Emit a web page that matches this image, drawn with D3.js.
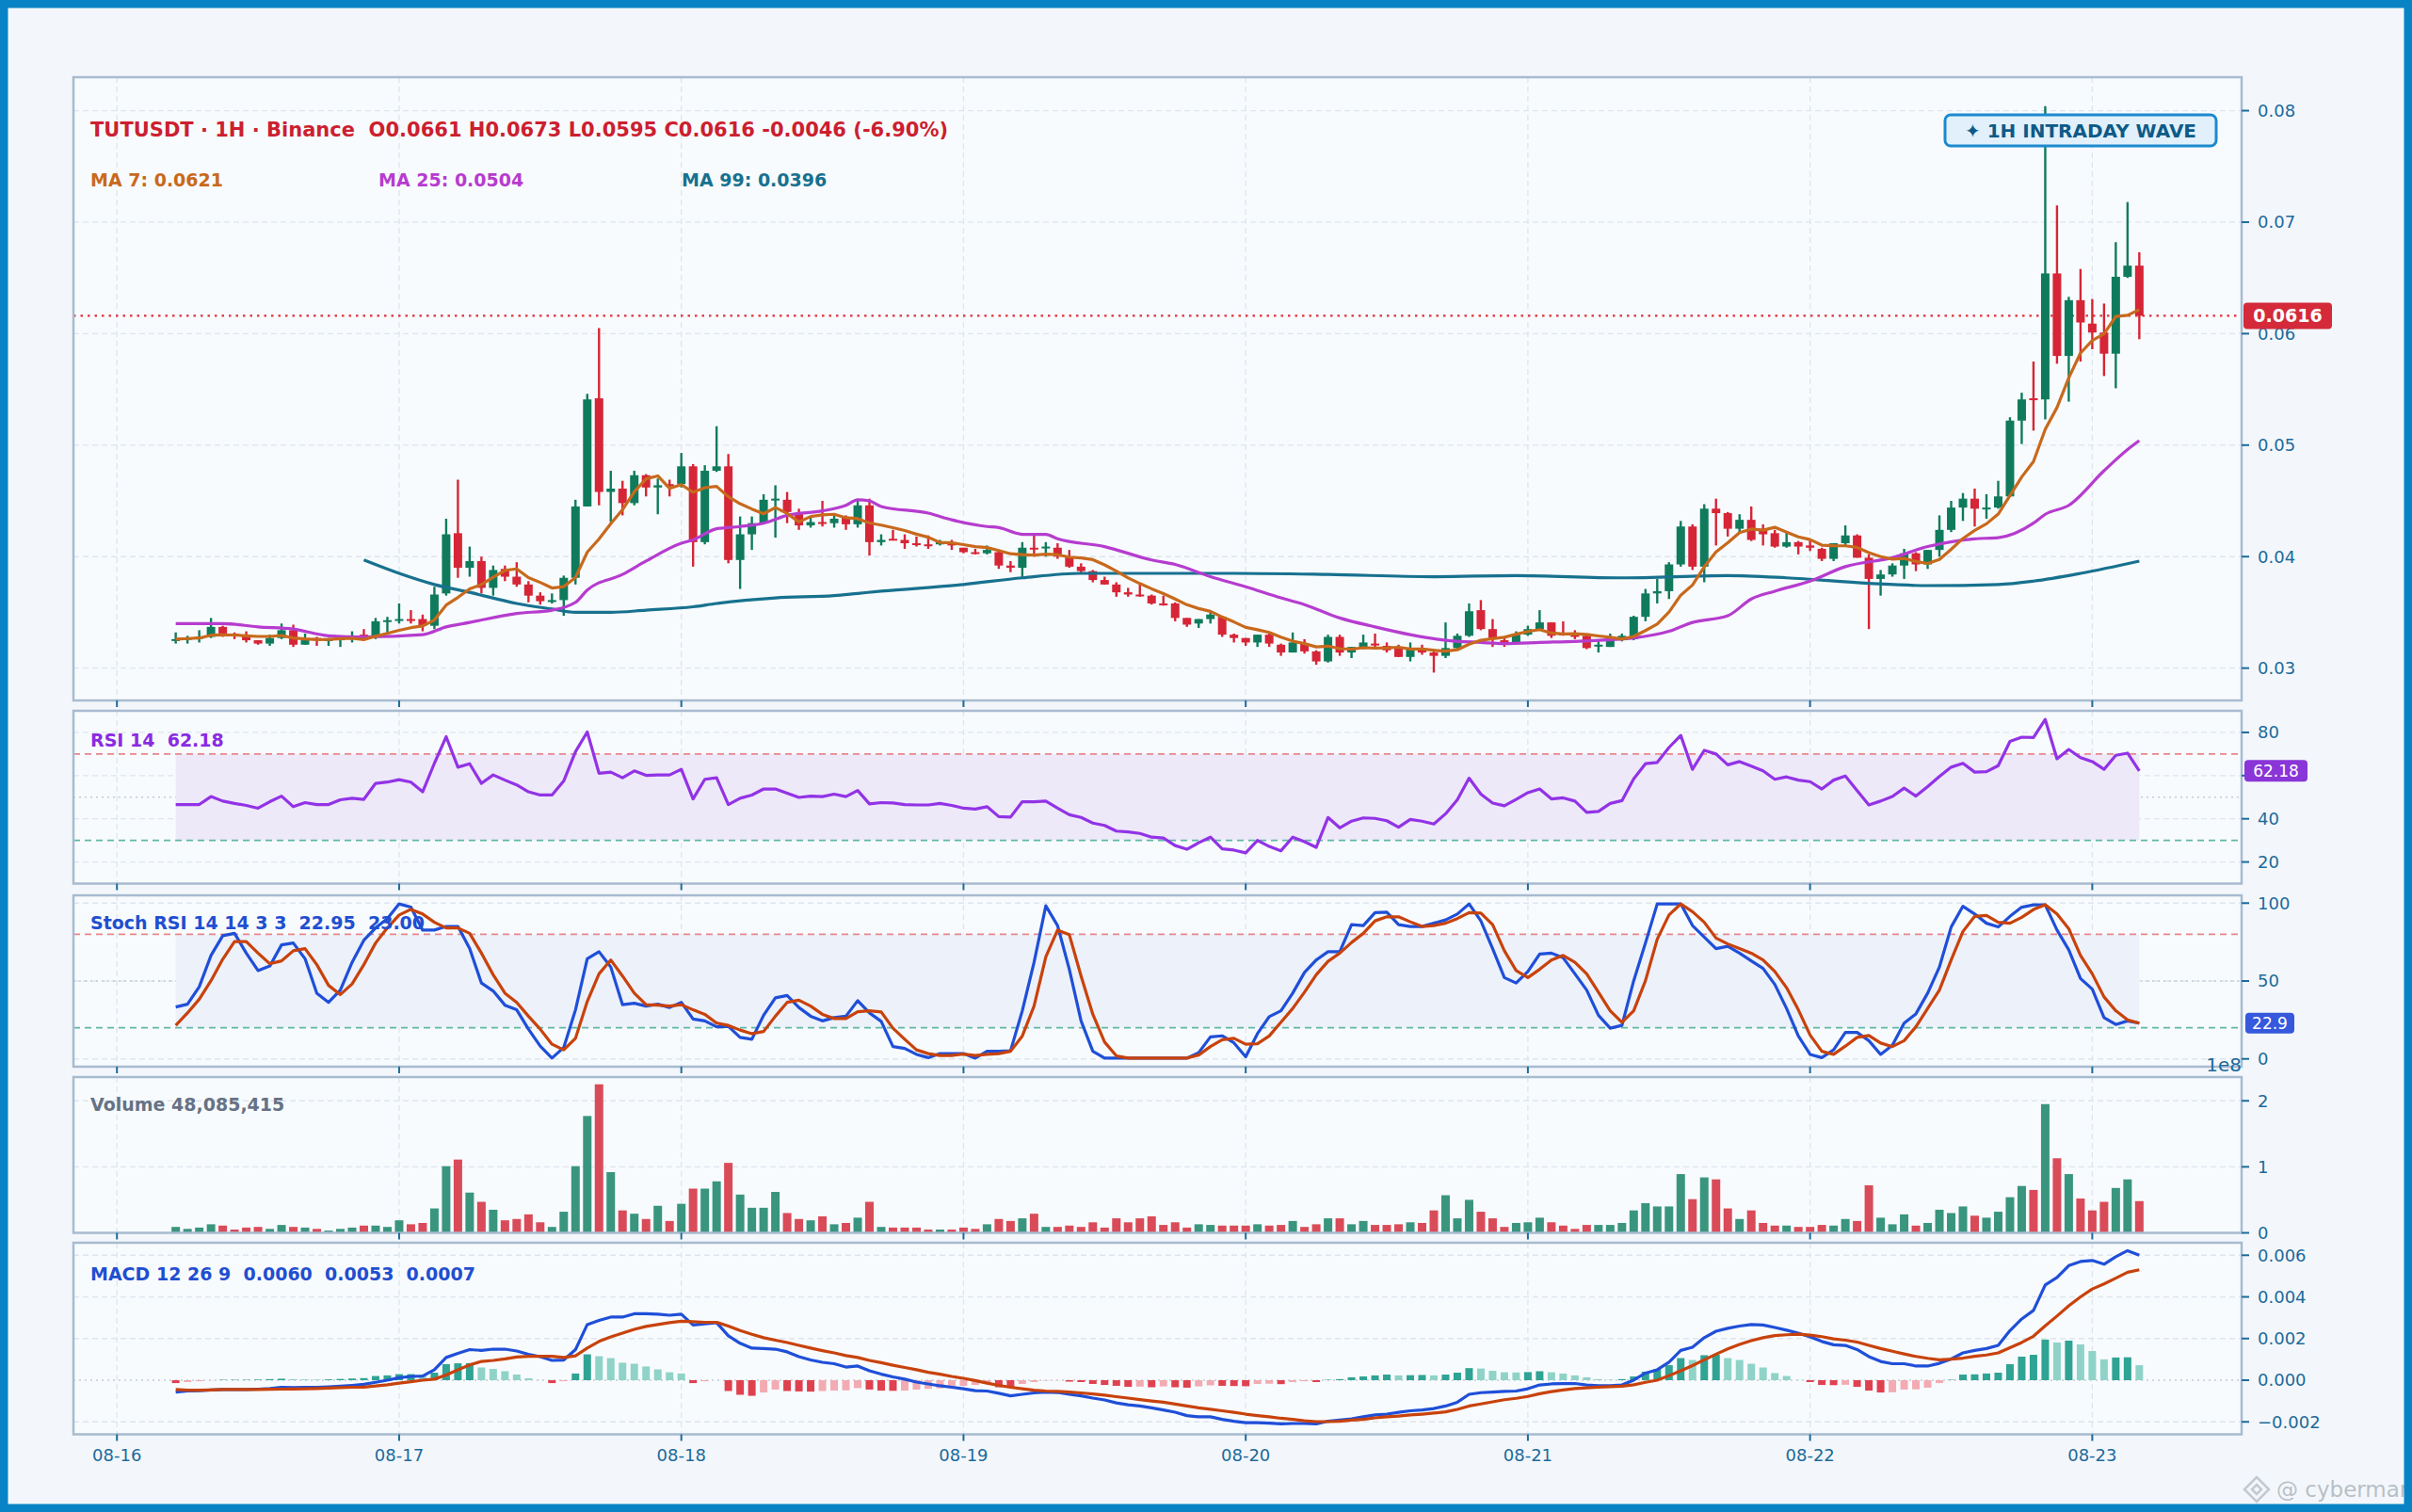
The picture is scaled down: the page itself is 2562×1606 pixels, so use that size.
<!DOCTYPE html>
<html lang="en">
<head>
<meta charset="utf-8">
<title>TUTUSDT 1H - Binance</title>
<script src="https://cdnjs.cloudflare.com/ajax/libs/d3/7.8.5/d3.min.js"></script>
<style>
  body { margin: 0; background: #f3f7fb; }
  svg { display: block; }
  text { font-family: "DejaVu Sans", sans-serif; }
</style>
</head>
<body>
<svg id="chart" width="2562" height="1606"></svg>
<script>
// ---- candles, 1h, first = 08-16 05:00, last = 08-23 04:00 ----
const opens = [
 .0325,.0326,.0327,.0328,.0337,.0331,.0329,.0325,.0322,.0327,.0334,.0321,
 .0327,.0325,.0325,.0327,.0330,.0329,.0342,.0343,.0344,.0344,.0338,.0367,
 .0421,.0390,.0396,.0372,.0389,.0382,.0375,.0365,.0360,.0361,.0381,.0445,
 .0542,.0458,.0461,.0448,.0473,.0462,.0465,.0465,.0481,.0413,.0477,.0481,
 .0397,.0420,.0430,.0451,.0451,.0439,.0428,.0431,.0430,.0435,.0429,.0446,
 .0413,.0416,.0415,.0412,.0411,.0411,.0413,.0408,.0404,.0403,.0404,.0392,
 .0390,.0408,.0408,.0408,.0400,.0391,.0387,.0379,.0375,.0368,.0366,.0365,
 .0358,.0358,.0345,.0340,.0344,.0346,.0330,.0327,.0323,.0330,.0321,.0314,
 .0322,.0315,.0306,.0328,.0314,.0319,.0322,.0320,.0319,.0310,.0317,.0314,
 .0311,.0318,.0329,.0352,.0335,.0325,.0323,.0330,.0335,.0341,.0331,.0331,
 .0329,.0320,.0319,.0328,.0326,.0346,.0367,.0369,.0393,.0427,.0391,.0443,
 .0439,.0425,.0433,.0425,.0421,.0409,.0413,.0410,.0407,.0398,.0412,.0419,
 .0399,.0380,.0384,.0392,.0403,.0393,.0406,.0424,.0444,.0452,.0443,.0444,
 .0454,.0522,.0542,.0541,.0654,.0580,.0630,.0609,.0601,.0582,.0651,.0661
];
const highs = [
 .0332,.0329,.0334,.0345,.0338,.0332,.0333,.0325,.0330,.0340,.0339,.0331,
 .0328,.0327,.0327,.0333,.0335,.0345,.0346,.0358,.0352,.0348,.0373,.0434,
 .0469,.0409,.0400,.0392,.0392,.0395,.0378,.0368,.0367,.0383,.0451,.0546,
 .0605,.0477,.0468,.0477,.0474,.0470,.0469,.0493,.0483,.0482,.0517,.0492,
 .0436,.0436,.0456,.0464,.0458,.0443,.0435,.0450,.0439,.0437,.0451,.0452,
 .0420,.0424,.0420,.0418,.0419,.0415,.0415,.0408,.0407,.0410,.0406,.0396,
 .0413,.0420,.0413,.0412,.0406,.0394,.0388,.0382,.0377,.0372,.0375,.0366,
 .0365,.0359,.0345,.0344,.0350,.0347,.0331,.0327,.0330,.0331,.0322,.0332,
 .0326,.0316,.0330,.0330,.0319,.0330,.0331,.0323,.0321,.0323,.0321,.0317,
 .0341,.0331,.0358,.0361,.0344,.0327,.0333,.0338,.0352,.0341,.0342,.0334,
 .0330,.0325,.0331,.0331,.0347,.0371,.0380,.0395,.0432,.0429,.0447,.0452,
 .0440,.0438,.0445,.0429,.0424,.0423,.0414,.0415,.0408,.0412,.0428,.0420,
 .0402,.0388,.0394,.0407,.0404,.0406,.0437,.0450,.0457,.0461,.0456,.0468,
 .0525,.0547,.0575,.0804,.0715,.0633,.0658,.0631,.0627,.0682,.0718,.0673
];
const lows = [
 .0322,.0322,.0323,.0327,.0328,.0326,.0323,.0321,.0320,.0326,.0319,.0321,
 .0320,.0320,.0319,.0323,.0325,.0326,.0330,.0340,.0340,.0333,.0335,.0365,
 .0381,.0382,.0367,.0365,.0378,.0373,.0359,.0357,.0358,.0347,.0375,.0445,
 .0446,.0431,.0437,.0446,.0454,.0438,.0454,.0462,.0391,.0411,.0476,.0394,
 .0371,.0406,.0429,.0417,.0430,.0424,.0426,.0427,.0426,.0424,.0426,.0401,
 .0410,.0415,.0407,.0409,.0407,.0410,.0406,.0403,.0402,.0402,.0389,.0386,
 .0381,.0400,.0400,.0398,.0390,.0385,.0377,.0375,.0364,.0364,.0364,.0357,
 .0356,.0342,.0337,.0336,.0340,.0328,.0323,.0320,.0319,.0319,.0311,.0314,
 .0313,.0303,.0305,.0311,.0309,.0317,.0319,.0314,.0310,.0306,.0312,.0296,
 .0309,.0316,.0328,.0334,.0319,.0319,.0323,.0329,.0334,.0327,.0329,.0326,
 .0317,.0314,.0319,.0324,.0325,.0342,.0358,.0362,.0391,.0388,.0377,.0410,
 .0418,.0422,.0414,.0410,.0408,.0408,.0402,.0405,.0396,.0396,.0410,.0399,
 .0335,.0365,.0382,.0380,.0387,.0389,.0400,.0422,.0432,.0427,.0434,.0443,
 .0454,.0501,.0513,.0523,.0573,.0539,.0575,.0586,.0562,.0551,.0650,.0595
];
const closes = [
 .0326,.0327,.0328,.0337,.0331,.0329,.0325,.0322,.0327,.0334,.0321,.0325,
 .0325,.0326,.0327,.0329,.0326,.0342,.0343,.0344,.0343,.0338,.0366,.0420,
 .0390,.0396,.0372,.0388,.0382,.0375,.0365,.0360,.0361,.0381,.0445,.0541,
 .0458,.0461,.0448,.0473,.0462,.0464,.0463,.0481,.0413,.0477,.0481,.0397,
 .0420,.0430,.0451,.0452,.0440,.0428,.0431,.0430,.0434,.0429,.0446,.0413,
 .0415,.0415,.0412,.0411,.0410,.0413,.0410,.0404,.0403,.0406,.0392,.0390,
 .0408,.0407,.0409,.0400,.0391,.0387,.0379,.0375,.0368,.0366,.0365,.0358,
 .0357,.0345,.0339,.0344,.0348,.0330,.0327,.0323,.0330,.0322,.0314,.0323,
 .0315,.0306,.0328,.0314,.0319,.0323,.0321,.0316,.0310,.0317,.0314,.0311,
 .0318,.0329,.0351,.0335,.0327,.0323,.0330,.0335,.0341,.0329,.0330,.0328,
 .0318,.0321,.0327,.0329,.0346,.0367,.0369,.0393,.0427,.0391,.0443,.0439,
 .0425,.0433,.0415,.0420,.0409,.0413,.0409,.0408,.0398,.0412,.0419,.0399,
 .0380,.0384,.0392,.0403,.0393,.0406,.0424,.0444,.0452,.0443,.0444,.0454,
 .0522,.0541,.0541,.0654,.0580,.0630,.0610,.0601,.0582,.0651,.0661,.0616
];
// volume, millions
const volumes = [
 9,6,8,13,11,5,8,9,6,12,9,8,6,3.5,6,8,11,11,9,19,13,15,37,101,111,61,47,35,19,21,28,16,9,32,101,177,225,92,34,29,21,41,18,44,67,67,78,106,58,38,38,62,30,21,19,25,
 13,15,23,47,9,8,8,8,5,5,5,8,6,13,21,18,22,29,9,9,11,9,16,8,22,16,22,25,12,16,8,13,12,11,11,11,13,11,12,18,9,13,22,22,13,18,12,12,13,16,15,34,57,22,50,32,
 22,9,15,16,23,16,11,6,12,12,12,15,34,45,40,40,89,51,84,81,37,21,34,15,11,11,9,9,12,11,21,18,72,23,13,28,11,15,35,30,40,26,23,32,54,71,65,195,113,89,52,34,47,68,81,48.085
];
// moving averages 25 / 99: [candle index, value]
const ma25Pts = [[0,.0340],[4,.0340],[7,.0337],[10,.0335],[13,.0329],[16,.0328],[21,.0330],[23,.0337],[25,.0341],[29,.0349],[32,.0352],[34,.0359],[35,.0370],[38,.0384],[40,.0396],[43,.0412],[44,.0415],[46,.0425],[48,.0427],[50,.0430],[52,.0437],[55,.0441],[57,.0446],[58,.0451],[59,.0450],[60,.0445],[64,.0439],[66,.0433],[69,.0427],[70,.0426],[72,.0420],[74,.0420],[75,.0416],[79,.0409],[83,.0397],[85,.0393],[88,.0382],[91,.0373],[94,.0363],[96,.0357],[99,.0345],[102,.0337],[105,.0330],[108,.0325],[111,.0323],[113,.0322],[116,.0323],[121,.0325],[124,.0327],[127,.0333],[129,.0341],[132,.0347],[134,.0362],[136,.0369],[139,.0378],[142,.0391],[146,.0399],[149,.0409],[153,.0416],[155,.0417],[158,.0430],[159,.0438],[161,.0446],[164,.0477],[166,.0496],[167,.0504]];
const ma99Pts = [[16,.0397],[19,.0385],[22,.0375],[25,.0368],[29,.0358],[32,.0353],[34,.0350],[37,.0350],[40,.0352],[44,.0355],[46,.0358],[51,.0363],[56,.0365],[58,.0367],[60,.0369],[67,.0375],[72,.0381],[77,.0385],[84,.0385],[90,.0385],[98,.0384],[107,.0382],[114,.0383],[123,.0381],[132,.0383],[137,.0381],[144,.0376],[149,.0374],[155,.0375],[158,.0378],[162,.0385],[167,.0396]];
const rsi = [
 46.6,46.6,46.6,50.3,48.2,47.1,46.2,44.9,47.9,50.5,45.6,47.5,46.6,46.6,48.8,49.5,49.0,56.4,57.0,58.1,57.0,52.5,65.7,78.0,63.9,65.5,56.4,60.3,57.9,55.7,52.5,51.0,51.0,57.5,71.1,80.2,61.1,61.6,59.0,62.2,60.1,60.3,60.3,62.9,49.2,58.3,59.0,46.6,49.5,51.0,53.8,53.8,51.8,49.9,50.5,50.3,
 51.4,50.3,53.1,46.9,47.5,47.3,46.6,46.4,46.4,47.1,46.2,44.9,44.5,45.6,41.0,40.8,47.9,47.9,48.2,44.9,41.9,40.6,38.0,36.9,34.3,33.9,33.2,31.5,31.1,27.6,25.9,28.9,31.5,26.1,25.5,24.2,30.0,27.2,25.2,31.5,29.4,26.8,40.6,35.8,38.9,40.4,40.2,39.1,36.1,39.7,38.9,37.6,42.3,48.8,58.8,51.4,
 47.3,46.0,49.0,52.1,53.8,49.2,49.7,48.2,43.0,43.4,47.1,48.4,58.5,65.5,66.1,73.0,78.6,62.9,71.7,70.0,65.0,66.5,64.4,62.2,58.3,59.4,57.9,57.2,53.8,57.9,59.8,53.1,46.4,48.2,50.3,54.2,50.5,54.9,59.6,63.9,65.7,61.6,61.8,64.6,75.8,77.8,77.6,86.0,67.8,72.1,68.3,66.5,62.9,69.4,70.4,62.18
];
const stochK = [
 33.3,35.1,46.3,66.4,79.1,80.6,67.9,56.7,59.6,73.2,74.4,64.3,42.2,36.3,44.2,62.0,76.2,84.1,90.1,99.5,97.4,82.7,82.7,85.0,85.0,70.8,48.7,43.6,34.5,31.5,19.1,8.2,0.5,7.3,31.5,64.3,68.8,59.0,34.8,35.7,33.9,35.1,33.0,36.3,25.6,24.4,20.6,20.9,13.8,12.6,28.0,39.2,40.7,33.0,27.4,24.4,
 26.5,27.4,37.4,29.5,24.1,7.9,6.7,2.9,0.8,3.4,3.4,3.4,0.5,4.9,4.9,5.2,30.9,62.0,98.3,85.6,57.5,24.4,4.9,0.5,0.5,0.5,0.5,0.5,0.5,0.5,0.5,4.0,14.1,14.8,10.3,1.4,16.2,27.1,30.9,42.2,55.5,63.5,68.8,68.8,86.2,85.6,93.9,94.2,86.2,85.0,85.0,87.1,89.2,93.0,99.5,88.6,
 70.8,52.2,48.7,56.1,67.3,67.9,64.9,54.6,44.2,28.0,19.7,21.5,50.2,74.4,99.5,99.5,99.5,85.6,78.2,70.8,72.3,67.9,62.9,58.1,47.8,32.4,14.7,2.9,0.8,5.8,17.0,17.0,11.7,2.9,8.8,23.0,28.9,42.2,59.0,84.7,98.0,93.0,87.1,84.7,91.5,97.4,98.9,98.9,82.7,70.0,51.6,44.8,26.5,22.1,24.4,22.95
];
const stochD = [
 21.5,29.5,38.3,50.2,64.0,75.3,75.3,67.9,61.1,62.9,69.4,70.8,60.5,47.2,41.3,48.1,60.5,74.4,84.1,92.4,96.0,93.0,87.7,84.1,84.1,80.6,67.9,54.0,42.2,36.3,27.4,19.1,9.4,5.8,13.2,36.8,54.6,63.5,53.2,42.2,34.8,34.5,33.9,34.8,31.5,28.6,23.0,21.5,18.5,16.2,17.6,27.4,36.3,37.7,33.9,28.6,
 25.9,25.9,30.3,30.9,30.1,19.7,12.6,5.8,3.4,2.2,2.2,3.1,2.2,2.9,3.4,4.9,14.7,33.9,65.5,82.7,79.7,53.2,28.6,10.8,1.9,0.5,0.5,0.5,0.5,0.5,0.5,2.5,7.9,12.3,13.2,9.4,9.7,14.7,23.6,32.4,42.8,54.0,62.6,67.9,74.7,80.6,88.6,91.2,91.2,88.0,85.0,85.6,87.1,90.1,93.9,93.6,
 86.2,69.4,56.7,52.2,57.5,63.5,66.4,62.0,54.6,42.8,30.9,23.5,30.9,50.2,76.8,92.4,99.5,94.5,87.7,77.6,73.8,70.8,67.9,63.5,56.1,45.7,31.5,15.3,4.9,2.9,8.2,13.8,15.0,10.2,7.9,11.7,20.6,32.4,44.2,63.5,81.8,91.5,92.1,87.7,87.1,90.9,95.9,98.9,93.0,83.6,66.4,54.6,39.8,30.9,25.0,23.00
];
// MACD 12 26 9, values in thousandths
const macdLine = [
 -0.57,-0.52,-0.50,-0.47,-0.45,-0.45,-0.45,-0.43,-0.40,-0.34,-0.36,-0.34,-0.34,-0.32,-0.29,-0.25,-0.20,-0.10,0.00,0.12,0.18,0.20,0.50,1.09,1.29,1.47,1.43,1.49,1.49,1.40,1.24,1.13,0.95,0.97,1.47,2.67,2.87,3.03,3.03,3.19,3.19,3.17,3.12,3.17,2.65,2.71,2.76,2.13,1.77,1.54,1.52,1.49,1.36,1.13,0.97,0.86,
 0.79,0.63,0.68,0.45,0.29,0.16,0.05,-0.09,-0.18,-0.27,-0.34,-0.41,-0.50,-0.52,-0.63,-0.75,-0.68,-0.61,-0.57,-0.59,-0.68,-0.75,-0.86,-0.95,-1.09,-1.18,-1.24,-1.33,-1.43,-1.54,-1.70,-1.76,-1.76,-1.88,-1.97,-2.04,-2.04,-2.06,-2.10,-2.08,-2.08,-2.10,-1.97,-1.92,-1.86,-1.76,-1.67,-1.63,-1.54,-1.47,-1.43,-1.36,-1.24,-1.06,-0.68,-0.60,
 -0.57,-0.54,-0.52,-0.41,-0.23,-0.18,-0.16,-0.16,-0.23,-0.27,-0.27,-0.23,0.00,0.34,0.50,0.86,1.43,1.58,2.04,2.35,2.49,2.60,2.67,2.65,2.53,2.40,2.26,2.08,1.86,1.70,1.67,1.47,1.13,0.90,0.79,0.79,0.68,0.68,0.81,1.02,1.31,1.43,1.52,1.67,2.38,2.94,3.35,4.57,4.93,5.50,5.70,5.75,5.57,5.93,6.22,6.00
];
const signalLine = [
 -0.45,-0.48,-0.48,-0.47,-0.45,-0.45,-0.45,-0.45,-0.44,-0.43,-0.42,-0.41,-0.40,-0.38,-0.36,-0.34,-0.33,-0.28,-0.22,-0.14,-0.07,0.00,0.05,0.25,0.50,0.73,0.90,0.95,1.02,1.11,1.15,1.15,1.15,1.09,1.17,1.54,1.86,2.08,2.26,2.44,2.58,2.67,2.76,2.83,2.81,2.78,2.78,2.60,2.38,2.20,2.04,1.92,1.81,1.67,1.54,1.42,
 1.31,1.18,1.09,0.95,0.84,0.72,0.61,0.50,0.38,0.29,0.18,0.09,-0.02,-0.14,-0.25,-0.34,-0.41,-0.48,-0.52,-0.54,-0.57,-0.61,-0.66,-0.72,-0.79,-0.86,-0.93,-1.00,-1.06,-1.15,-1.24,-1.33,-1.40,-1.47,-1.54,-1.63,-1.70,-1.76,-1.83,-1.88,-1.95,-1.99,-1.99,-1.97,-1.92,-1.88,-1.81,-1.76,-1.72,-1.67,-1.63,-1.58,-1.52,-1.40,-1.24,-1.14,
 -1.04,-0.94,-0.87,-0.78,-0.65,-0.55,-0.47,-0.40,-0.37,-0.33,-0.31,-0.29,-0.22,-0.10,0.00,0.22,0.45,0.70,0.98,1.25,1.50,1.72,1.90,2.04,2.14,2.18,2.21,2.16,2.09,1.98,1.92,1.83,1.67,1.52,1.39,1.26,1.14,1.05,0.98,1.01,1.06,1.15,1.21,1.31,1.56,1.81,2.11,2.61,3.08,3.57,4.00,4.38,4.62,4.90,5.18,5.30
];
const macdHist = [
 -0.14,-0.09,-0.05,-0.01,0.02,0.02,0.02,0.03,0.05,0.07,0.05,0.04,0.03,0.04,0.06,0.08,0.10,0.20,0.23,0.29,0.29,0.27,0.36,0.77,0.81,0.82,0.61,0.54,0.43,0.27,0.09,0.01,-0.14,-0.05,0.32,1.24,1.15,1.06,0.84,0.79,0.66,0.52,0.38,0.32,-0.14,-0.05,0.00,-0.52,-0.70,-0.75,-0.59,-0.45,-0.52,-0.54,-0.55,-0.52,
 -0.50,-0.49,-0.38,-0.45,-0.50,-0.51,-0.50,-0.45,-0.41,-0.39,-0.34,-0.27,-0.23,-0.16,-0.34,-0.36,-0.18,-0.09,-0.02,-0.01,-0.07,-0.09,-0.18,-0.23,-0.27,-0.32,-0.31,-0.34,-0.30,-0.34,-0.36,-0.30,-0.25,-0.27,-0.28,-0.29,-0.18,-0.17,-0.19,-0.09,-0.05,-0.09,0.02,0.05,0.14,0.18,0.23,0.27,0.23,0.24,0.25,0.23,0.27,0.36,0.58,0.56,
 0.45,0.38,0.37,0.39,0.43,0.38,0.32,0.23,0.14,0.05,0.02,0.05,0.18,0.41,0.54,0.72,1.06,0.97,1.20,1.22,1.06,0.97,0.79,0.61,0.34,0.20,0.01,-0.09,-0.23,-0.24,-0.22,-0.32,-0.50,-0.59,-0.58,-0.45,-0.44,-0.36,-0.14,0.02,0.27,0.28,0.32,0.36,0.77,1.13,1.22,1.95,1.81,1.90,1.72,1.40,1.00,1.09,1.10,0.72
];
const dayLabels = ["08-16","08-17","08-18","08-19","08-20","08-21","08-22","08-23"];
const priceTicks = [0.03, 0.04, 0.05, 0.06, 0.07, 0.08];
const rsiTicks = [20, 40, 60, 80];
const stochTicks = [0, 50, 100];
const volTicks = [0, 100, 200];
const macdTicks = [-2, 0, 2, 4, 6];
const lastPrice = 0.0616;

// ---- layout ----
const W = 2562, H = 1606, L = 78, R = 2381;
const HOUR = 3600e3;
const t0 = Date.UTC(2024, 7, 16, 5);
const times = closes.map((d, i) => new Date(t0 + i * HOUR));
const pad = 8.7 * HOUR;
const x = d3.scaleUtc().domain([t0 - pad, t0 + 167 * HOUR + pad]).range([L, R]);
const days = dayLabels.map((d, i) => new Date(Date.UTC(2024, 7, 16 + i)));

const panels = {
  price: { top: 82, bottom: 744 },
  rsi:   { top: 755, bottom: 938.5 },
  stoch: { top: 951, bottom: 1133 },
  vol:   { top: 1144, bottom: 1309.5 },
  macd:  { top: 1320, bottom: 1523.5 }
};
const yPrice = d3.scaleLinear().domain([0.0271, 0.0830]).range([panels.price.bottom, panels.price.top]);
const yRsi = d3.scaleLinear().domain([10, 90]).range([panels.rsi.bottom, panels.rsi.top]);
const yStoch = d3.scaleLinear().domain([-5, 105]).range([panels.stoch.bottom, panels.stoch.top]);
const yVol = d3.scaleLinear().domain([0, 236]).range([panels.vol.bottom, panels.vol.top]);
const yMacd = d3.scaleLinear().domain([-2.6, 6.6]).range([panels.macd.bottom, panels.macd.top]);

const C = {
  up: "#0f7b5c", down: "#d62536", volUp: "#3a957f", volDown: "#d94b58",
  ma7: "#c8691c", ma25: "#b63ccf", ma99: "#17718f",
  rsi: "#9233e6", k: "#1f4fd8", d: "#c8420c",
  grid: "#dde5ef", border: "#a7bbd0", tick: "#1d6a9a"
};

const svg = d3.select("#chart");
svg.append("rect").attr("width", W).attr("height", H).attr("fill", "#f3f7fb");

const defs = svg.append("defs");
Object.entries(panels).forEach(([k, p]) => {
  defs.append("clipPath").attr("id", "clip-" + k)
    .append("rect").attr("x", L).attr("y", p.top).attr("width", R - L).attr("height", p.bottom - p.top);
  svg.append("rect").attr("x", L).attr("y", p.top).attr("width", R - L).attr("height", p.bottom - p.top)
    .attr("fill", "#f8fbfd");
});

// grid
function grid(p, y, ticks, dottedVals) {
  const g = svg.append("g").attr("clip-path", "url(#clip-" + p + ")");
  const pp = panels[p];
  g.selectAll(".v").data(days).enter().append("line")
    .attr("x1", d => x(d)).attr("x2", d => x(d)).attr("y1", pp.top).attr("y2", pp.bottom)
    .attr("stroke", C.grid).attr("stroke-width", 1.3).attr("stroke-dasharray", "6,4");
  g.selectAll(".h").data(ticks).enter().append("line")
    .attr("x1", L).attr("x2", R).attr("y1", d => y(d)).attr("y2", d => y(d))
    .attr("stroke", C.grid).attr("stroke-width", 1.3).attr("stroke-dasharray", "6,4");
  (dottedVals || []).forEach(v => {
    g.append("line").attr("x1", L).attr("x2", R).attr("y1", y(v)).attr("y2", y(v))
      .attr("stroke", "#c3cbd6").attr("stroke-width", 1.3).attr("stroke-dasharray", "2,4");
  });
  return g;
}
grid("price", yPrice, priceTicks);
grid("rsi", yRsi, rsiTicks, [50]);
grid("stoch", yStoch, stochTicks, [50]);
grid("vol", yVol, volTicks);
grid("macd", yMacd, [-2, 2, 4, 6], [0]);

const xFirst = x(times[0]), xLast = x(times[times.length - 1]);
const candleW = 9;

// ---- price panel ----
const gp = svg.append("g").attr("clip-path", "url(#clip-price)");
gp.append("line").attr("x1", L).attr("x2", R).attr("y1", yPrice(lastPrice)).attr("y2", yPrice(lastPrice))
  .attr("stroke", "#e0303e").attr("stroke-width", 2.2).attr("stroke-dasharray", "2.5,5");

const candles = gp.selectAll(".c").data(closes).enter().append("g");
candles.append("line")
  .attr("x1", (d, i) => x(times[i])).attr("x2", (d, i) => x(times[i]))
  .attr("y1", (d, i) => yPrice(highs[i])).attr("y2", (d, i) => yPrice(lows[i]))
  .attr("stroke", (d, i) => d >= opens[i] ? C.up : C.down).attr("stroke-width", 2.4);
candles.append("rect")
  .attr("x", (d, i) => x(times[i]) - candleW / 2).attr("width", candleW)
  .attr("y", (d, i) => yPrice(Math.max(d, opens[i])))
  .attr("height", (d, i) => Math.max(2, Math.abs(yPrice(d) - yPrice(opens[i]))))
  .attr("fill", (d, i) => d >= opens[i] ? C.up : C.down);

const ma7 = closes.map((d, i) => d3.mean(closes.slice(Math.max(0, i - 6), i + 1)));
gp.append("path").datum(ma99Pts)
  .attr("d", d3.line().x(d => x(times[d[0]])).y(d => yPrice(d[1])).curve(d3.curveMonotoneX))
  .attr("fill", "none").attr("stroke", C.ma99).attr("stroke-width", 3.2);
gp.append("path").datum(ma25Pts)
  .attr("d", d3.line().x(d => x(times[d[0]])).y(d => yPrice(d[1])).curve(d3.curveMonotoneX))
  .attr("fill", "none").attr("stroke", C.ma25).attr("stroke-width", 3.2);
gp.append("path").datum(ma7)
  .attr("d", d3.line().x((d, i) => x(times[i])).y(d => yPrice(d)))
  .attr("fill", "none").attr("stroke", C.ma7).attr("stroke-width", 3.2).attr("stroke-linejoin", "round");

// ---- RSI ----
const gr = svg.append("g").attr("clip-path", "url(#clip-rsi)");
gr.append("rect").attr("x", xFirst).attr("width", xLast - xFirst)
  .attr("y", yRsi(70)).attr("height", yRsi(30) - yRsi(70)).attr("fill", "#eee9f9");
gr.append("line").attr("x1", L).attr("x2", R).attr("y1", yRsi(70)).attr("y2", yRsi(70))
  .attr("stroke", "#e8868c").attr("stroke-width", 1.8).attr("stroke-dasharray", "7,5");
gr.append("line").attr("x1", L).attr("x2", R).attr("y1", yRsi(30)).attr("y2", yRsi(30))
  .attr("stroke", "#5fb8a6").attr("stroke-width", 1.8).attr("stroke-dasharray", "7,5");
gr.append("path").datum(rsi)
  .attr("d", d3.line().x((d, i) => x(times[i])).y(d => yRsi(d)))
  .attr("fill", "none").attr("stroke", C.rsi).attr("stroke-width", 3.2).attr("stroke-linejoin", "round");

// ---- Stoch RSI ----
const gs = svg.append("g").attr("clip-path", "url(#clip-stoch)");
gs.append("rect").attr("x", xFirst).attr("width", xLast - xFirst)
  .attr("y", yStoch(80)).attr("height", yStoch(20) - yStoch(80)).attr("fill", "#edf1fa");
gs.append("line").attr("x1", L).attr("x2", R).attr("y1", yStoch(80)).attr("y2", yStoch(80))
  .attr("stroke", "#e8868c").attr("stroke-width", 1.8).attr("stroke-dasharray", "7,5");
gs.append("line").attr("x1", L).attr("x2", R).attr("y1", yStoch(20)).attr("y2", yStoch(20))
  .attr("stroke", "#5fb8a6").attr("stroke-width", 1.8).attr("stroke-dasharray", "7,5");
gs.append("path").datum(stochK)
  .attr("d", d3.line().x((d, i) => x(times[i])).y(d => yStoch(d)))
  .attr("fill", "none").attr("stroke", C.k).attr("stroke-width", 3.2).attr("stroke-linejoin", "round");
gs.append("path").datum(stochD)
  .attr("d", d3.line().x((d, i) => x(times[i])).y(d => yStoch(d)))
  .attr("fill", "none").attr("stroke", C.d).attr("stroke-width", 3.2).attr("stroke-linejoin", "round");

// ---- Volume ----
const gv = svg.append("g").attr("clip-path", "url(#clip-vol)");
gv.selectAll("rect.v").data(volumes).enter().append("rect")
  .attr("x", (d, i) => x(times[i]) - 4.5).attr("width", 9)
  .attr("y", d => yVol(d)).attr("height", d => yVol(0) - yVol(d))
  .attr("fill", (d, i) => closes[i] >= opens[i] ? C.volUp : C.volDown);

// ---- MACD ----
const gm = svg.append("g").attr("clip-path", "url(#clip-macd)");
function histColor(d, i) {
  const prev = i > 0 ? macdHist[i - 1] : d;
  if (d >= 0) return d >= prev ? "#2fa394" : "#8fd3c8";
  return d <= prev ? "#e0414f" : "#f2abb2";
}
gm.selectAll("rect.h").data(macdHist).enter().append("rect")
  .attr("x", (d, i) => x(times[i]) - 4).attr("width", 8)
  .attr("y", d => yMacd(Math.max(0, d))).attr("height", d => Math.abs(yMacd(d) - yMacd(0)))
  .attr("fill", histColor);
gm.append("path").datum(macdLine)
  .attr("d", d3.line().x((d, i) => x(times[i])).y(d => yMacd(d)))
  .attr("fill", "none").attr("stroke", C.k).attr("stroke-width", 3.2).attr("stroke-linejoin", "round");
gm.append("path").datum(signalLine)
  .attr("d", d3.line().x((d, i) => x(times[i])).y(d => yMacd(d)))
  .attr("fill", "none").attr("stroke", C.d).attr("stroke-width", 3.2).attr("stroke-linejoin", "round");

// ---- borders, ticks ----
Object.values(panels).forEach(p => {
  svg.append("rect").attr("x", L).attr("y", p.top).attr("width", R - L).attr("height", p.bottom - p.top)
    .attr("fill", "none").attr("stroke", C.border).attr("stroke-width", 2.5);
  svg.append("g").selectAll("line").data(days).enter().append("line")
    .attr("x1", d => x(d)).attr("x2", d => x(d)).attr("y1", p.bottom).attr("y2", p.bottom + 7)
    .attr("stroke", C.tick).attr("stroke-width", 2);
});

function rightAxis(y, ticks, fmt) {
  const g = svg.append("g");
  ticks.forEach(t => {
    g.append("line").attr("x1", R).attr("x2", R + 8).attr("y1", y(t)).attr("y2", y(t))
      .attr("stroke", C.tick).attr("stroke-width", 2);
    g.append("text").attr("x", R + 17).attr("y", y(t)).attr("dy", "0.36em")
      .attr("font-size", 18).attr("fill", C.tick).text(fmt(t));
  });
}
rightAxis(yPrice, priceTicks, d3.format(".2f"));
rightAxis(yRsi, rsiTicks, d => d);
rightAxis(yStoch, stochTicks, d => d);
rightAxis(yVol, volTicks, d => d / 100);
rightAxis(yMacd, macdTicks, d => d3.format(".3f")(d / 1000).replace("-", "\u2212"));
svg.append("text").attr("x", R).attr("y", 1138).attr("text-anchor", "end")
  .attr("font-size", 20).attr("fill", C.tick).text("1e8");

svg.append("g").selectAll("text").data(days).enter().append("text")
  .attr("x", d => x(d)).attr("y", 1552).attr("text-anchor", "middle")
  .attr("font-size", 18).attr("fill", C.tick).text((d, i) => dayLabels[i]);

// ---- value tags ----
function tag(xPos, yc, w, h, fill, label, size, weight) {
  svg.append("rect").attr("x", xPos).attr("y", yc - h / 2).attr("width", w).attr("height", h)
    .attr("rx", 4).attr("fill", fill);
  svg.append("text").attr("x", xPos + w / 2).attr("y", yc).attr("dy", "0.36em").attr("text-anchor", "middle")
    .attr("font-size", size).attr("font-weight", weight).attr("fill", "#fff").text(label);
}
tag(2383, yPrice(lastPrice), 94, 28, "#d42a3a", "0.0616", 19, "bold");
tag(2384, yRsi(62.18), 67, 23, "#8a35d8", "62.18", 17, "normal");
tag(2385, yStoch(22.95), 52, 22, "#3558dc", "22.9", 17, "normal");

// ---- titles ----
function label(xPos, yPos, txt, color, size) {
  svg.append("text").attr("x", xPos).attr("y", yPos).attr("font-size", size).attr("font-weight", "bold")
    .attr("fill", color).style("white-space", "pre").text(txt);
}
label(96, 145, "TUTUSDT \u00b7 1H \u00b7 Binance  O0.0661 H0.0673 L0.0595 C0.0616 -0.0046 (-6.90%)", "#cc1f30", 21);
label(96, 198, "MA 7: 0.0621", C.ma7, 19);
label(402, 198, "MA 25: 0.0504", C.ma25, 19);
label(724, 198, "MA 99: 0.0396", C.ma99, 19);
label(96, 793, "RSI 14  62.18", "#8a2be2", 19);
label(96, 987, "Stoch RSI 14 14 3 3  22.95  23.00", "#1f4fd0", 19);
label(96, 1180, "Volume 48,085,415", "#667284", 19);
label(96, 1360, "MACD 12 26 9  0.0060  0.0053  0.0007", "#1f4fd0", 19);

// badge
svg.append("rect").attr("x", 2066).attr("y", 122).attr("width", 288).attr("height", 33).attr("rx", 6)
  .attr("fill", "#e1f0fb").attr("stroke", "#1d8ad0").attr("stroke-width", 3);
svg.append("text").attr("x", 2210).attr("y", 139).attr("dy", "0.36em").attr("text-anchor", "middle")
  .attr("font-size", 20).attr("font-weight", "bold").attr("fill", "#0d5a88").text("\u2726 1H INTRADAY WAVE");

// watermark
const wm = svg.append("g").attr("transform", "translate(2397,1582)").attr("fill", "none")
  .attr("stroke", "#c3c9d0").attr("stroke-width", 2.5);
wm.append("path").attr("d", "M0,-13L13,0L0,13L-13,0Z");
wm.append("path").attr("d", "M0,-5L5,0L0,5L-5,0Z");
svg.append("text").attr("x", 2418).attr("y", 1590).attr("font-size", 23).attr("fill", "#b8bfc7")
  .text("@ cyberman");

// outer frame
svg.append("rect").attr("x", 4.25).attr("y", 4.25).attr("width", W - 8.5).attr("height", H - 8.5)
  .attr("fill", "none").attr("stroke", "#0884c6").attr("stroke-width", 8.5);
</script>
</body>
</html>
